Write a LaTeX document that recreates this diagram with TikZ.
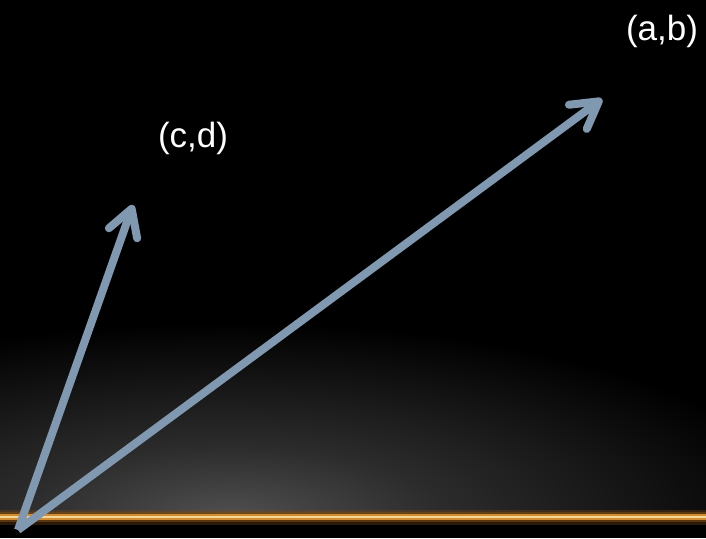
\documentclass[tikz,border=0pt]{standalone}
\usepackage{fontspec}
\setmainfont{Liberation Sans}
\usetikzlibrary{arrows.meta}
\definecolor{vec}{RGB}{128,152,176}
\definecolor{glowc}{RGB}{80,80,80}
\definecolor{glowm}{RGB}{44,44,44}
\definecolor{goldcore}{RGB}{245,215,150}
\definecolor{goldmid}{RGB}{210,140,50}
\definecolor{golddark}{RGB}{120,72,18}
\pgfdeclareradialshading{floorglow}{\pgfpoint{0bp}{0bp}}{color(0bp)=(glowc); color(9bp)=(glowm); color(25bp)=(black); color(50bp)=(black)}
\tikzset{
  vector/.style={draw=vec, line width=8pt, -{Straight Barb[length=26pt, width=30pt, round]}},
  coordlabel/.style={text=white, font=\fontsize{35}{40}\selectfont, inner sep=0pt}
}
\begin{document}
\begin{tikzpicture}[x=1pt,y=-1pt]
  \fill[black] (0,0) rectangle (706,538);
  \useasboundingbox (0,0) rectangle (706,538);
  \begin{scope}
    \clip (0,0) rectangle (706,517);
    \fill[shading=floorglow] (230,517) ellipse (580 and 195);
  \end{scope}
  % gold horizon line
  \draw[golddark, line width=15pt, opacity=0.35] (0,517) -- (706,517);
  \draw[golddark, line width=10pt, opacity=0.6] (0,517) -- (706,517);
  \draw[goldmid, line width=5.5pt] (0,517) -- (706,517);
  \draw[goldcore, line width=2.8pt] (0,517) -- (706,517);
  % vectors
  \coordinate (o) at (18,530);
  \coordinate (cd) at (133,205);
  \coordinate (ab) at (602,99);
  \draw[vector] (o) -- (cd);
  \draw[vector] (o) -- (ab);
  \node[coordlabel] (lcd) at (193,138) {(c,d)};
  \node[coordlabel] (lab) at (662,31) {(a,b)};
\end{tikzpicture}
\end{document}
